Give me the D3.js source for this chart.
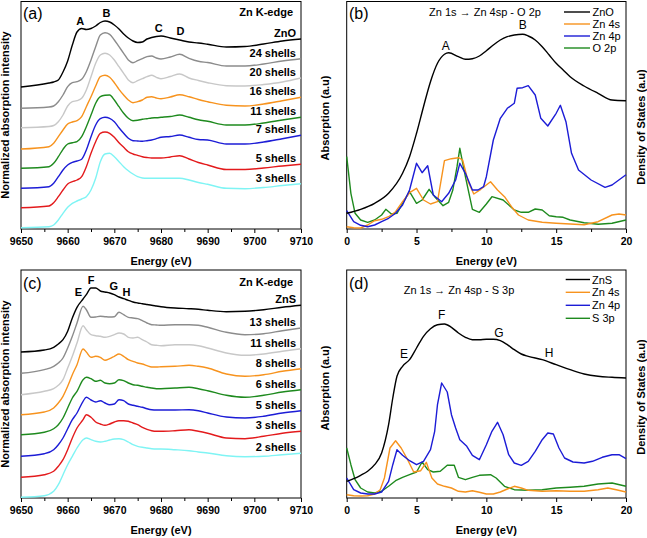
<!DOCTYPE html>
<html><head><meta charset="utf-8">
<script src="https://cdn.jsdelivr.net/npm/d3@7"></script>
<style>
body{margin:0;background:#fff;}
svg{display:block;}
text{font-family:"Liberation Sans",Arial,Helvetica,sans-serif;fill:#000;}
</style>
</head><body>
<svg id="chart" width="647" height="538"></svg>
<script>
// ---------------- Panel (a): Zn K-edge XANES, ZnO clusters ----------------
const energyA = [9650,9656,9657,9658,9659,9660,9661,9662,9663,9664,9665,9666,9667,9668,9669,9670,9671,9672,9673,9674,9675,9676,9677,9678,9679,9680,9682,9684,9686,9688,9690,9694,9698,9702,9706,9710];
const znoExp   = [1.42,1.46,1.47,1.49,1.57,1.68,1.84,1.97,2.005,1.995,2.005,2.03,2.065,2.08,2.07,2.04,2.00,1.95,1.91,1.88,1.865,1.87,1.90,1.915,1.925,1.93,1.91,1.89,1.87,1.86,1.847,1.82,1.825,1.85,1.88,1.90];
const zno24    = [1.207,1.22,1.23,1.273,1.34,1.423,1.463,1.473,1.497,1.573,1.69,1.823,1.94,1.963,1.947,1.89,1.823,1.757,1.69,1.663,1.683,1.703,1.723,1.73,1.71,1.70,1.72,1.747,1.707,1.677,1.665,1.63,1.63,1.65,1.68,1.703];
const zno20    = [1.013,1.025,1.035,1.073,1.14,1.23,1.273,1.283,1.307,1.39,1.523,1.657,1.74,1.757,1.74,1.69,1.623,1.557,1.49,1.463,1.483,1.503,1.523,1.537,1.517,1.503,1.525,1.55,1.51,1.485,1.463,1.433,1.43,1.445,1.47,1.51];
const zno16    = [0.80,0.823,0.857,0.923,0.99,1.05,1.07,1.083,1.123,1.223,1.323,1.43,1.523,1.537,1.517,1.463,1.397,1.34,1.29,1.263,1.273,1.29,1.317,1.323,1.31,1.303,1.32,1.343,1.323,1.295,1.273,1.237,1.23,1.25,1.283,1.317];
const zno11    = [0.607,0.623,0.657,0.723,0.797,0.85,0.863,0.873,0.923,1.023,1.14,1.257,1.323,1.337,1.34,1.29,1.223,1.157,1.107,1.083,1.087,1.097,1.103,1.11,1.113,1.117,1.125,1.14,1.117,1.093,1.077,1.04,1.04,1.06,1.09,1.117];
const zno7     = [0.407,0.423,0.457,0.523,0.59,0.64,0.667,0.68,0.697,0.79,0.923,1.04,1.103,1.117,1.107,1.073,1.013,0.957,0.907,0.883,0.88,0.877,0.883,0.89,0.903,0.917,0.925,0.94,0.917,0.895,0.89,0.85,0.85,0.87,0.903,0.937];
const zno5     = [0.213,0.23,0.263,0.323,0.39,0.45,0.473,0.49,0.523,0.623,0.757,0.873,0.957,0.97,0.957,0.917,0.863,0.817,0.773,0.75,0.737,0.723,0.715,0.71,0.71,0.71,0.72,0.733,0.70,0.665,0.64,0.595,0.595,0.61,0.63,0.647];
const zno3     = [0.013,0.023,0.04,0.09,0.157,0.217,0.257,0.28,0.30,0.323,0.39,0.507,0.673,0.75,0.757,0.723,0.673,0.623,0.583,0.55,0.523,0.51,0.507,0.507,0.507,0.507,0.507,0.507,0.49,0.465,0.447,0.407,0.403,0.415,0.435,0.453];
const labelsA  = ["ZnO","24 shells","20 shells","16 shells","11 shells","7 shells","5 shells","3 shells"];
const featuresA = [["A",9662.7,2.04],["B",9668.3,2.117],["C",9679.5,1.967],["D",9684.2,1.943]];

// ---------------- Panel (b): ZnO absorption and DOS ----------------
const eBabs = [0,1,2,3,4,4.5,5,5.5,6,6.5,7,7.3,8,8.5,9,9.5,10,10.5,11,11.5,12,12.6,13,13.5,14,14.5,15,15.5,16,17,18,19,20];
const znoAbs = [0.157,0.197,0.257,0.357,0.557,0.723,0.957,1.223,1.473,1.657,1.747,1.763,1.723,1.697,1.703,1.73,1.783,1.84,1.89,1.923,1.94,1.947,1.93,1.89,1.823,1.74,1.657,1.59,1.523,1.43,1.357,1.29,1.283];
const eB4s = [0,0.5,1,1.5,2,2.5,3,3.5,4,4.5,5,5.5,6,6.5,7,7.5,8,8.3,8.7,9.1,9.6,10.3,10.8,11.3,11.8,12.3,13,14,15,16,17,18,19,19.5,20];
const znoZn4s = [0.023,0.013,0.01,0.04,0.083,0.097,0.123,0.173,0.273,0.363,0.407,0.29,0.25,0.273,0.683,0.703,0.713,0.69,0.473,0.35,0.397,0.473,0.39,0.323,0.223,0.14,0.09,0.067,0.057,0.05,0.043,0.073,0.14,0.15,0.14];
const eB4p = [0,0.5,1,1.5,2,2.5,3,3.5,4,4.5,5,5.4,5.8,6.2,6.8,7.3,7.8,8.1,8.5,9,9.4,9.8,10,10.5,11,11.5,12,12.2,12.6,13,13.5,13.9,14.4,15,15.3,15.7,16.1,16.6,17.5,18.5,19,20];
const znoZn4p = [0.183,0.073,0.037,0.023,0.04,0.073,0.107,0.157,0.24,0.39,0.657,0.563,0.633,0.34,0.273,0.357,0.49,0.657,0.557,0.39,0.39,0.423,0.523,0.89,1.107,1.207,1.257,1.407,1.413,1.433,1.34,1.107,1.03,1.157,1.237,1.073,0.757,0.59,0.49,0.417,0.44,0.543];
const eB2p = [0,0.3,0.6,1,1.5,2,2.5,2.8,3.2,3.6,4,4.5,5,5.4,5.9,6.3,6.9,7.3,7.6,7.9,8.1,8.5,9,9.5,10,10.4,11.2,12,12.5,13,13.5,14,14.5,15,15.5,16,17,18,19,20];
const znoO2p = [0.723,0.357,0.157,0.09,0.067,0.09,0.14,0.197,0.15,0.157,0.257,0.373,0.257,0.29,0.397,0.323,0.233,0.267,0.39,0.623,0.807,0.523,0.197,0.167,0.25,0.323,0.29,0.19,0.167,0.167,0.20,0.19,0.133,0.123,0.117,0.09,0.063,0.047,0.057,0.09];
const legendB = ["ZnO","Zn 4s","Zn 4p","O 2p"];
const featuresB = [["A",7.1,1.79],["B",12.6,2.00]];

// ---------------- Panel (c): Zn K-edge XANES, ZnS clusters ----------------
const energyC = [9650,9655,9657,9658,9659,9660,9661,9662,9663.3,9664,9665,9666,9667,9668,9669,9670,9671,9672,9673,9674,9675,9676,9677,9678,9679,9680,9683,9686,9688,9690,9694,9698,9702,9706,9710];
const znsExp = [1.46,1.48,1.507,1.54,1.583,1.667,1.80,1.907,1.99,2.033,2.10,2.10,2.07,2.06,2.05,2.033,2.01,1.993,1.977,1.96,1.95,1.943,1.935,1.927,1.92,1.913,1.90,1.893,1.887,1.877,1.863,1.867,1.883,1.907,1.927];
const zns13 = [1.247,1.283,1.317,1.35,1.40,1.50,1.617,1.75,1.917,1.883,1.807,1.81,1.817,1.813,1.81,1.813,1.857,1.833,1.807,1.80,1.793,1.773,1.75,1.733,1.73,1.727,1.733,1.733,1.727,1.707,1.657,1.633,1.643,1.673,1.70];
const zns11 = [1.033,1.067,1.093,1.127,1.183,1.30,1.417,1.55,1.723,1.683,1.633,1.623,1.617,1.607,1.617,1.633,1.65,1.64,1.607,1.60,1.607,1.583,1.56,1.533,1.527,1.523,1.533,1.533,1.523,1.50,1.45,1.427,1.44,1.467,1.493];
const zns8  = [0.833,0.86,0.90,0.95,1.017,1.117,1.233,1.333,1.49,1.46,1.407,1.417,1.407,1.377,1.393,1.417,1.44,1.417,1.383,1.367,1.35,1.34,1.323,1.31,1.31,1.313,1.317,1.327,1.317,1.30,1.24,1.217,1.233,1.267,1.293];
const zns6  = [0.633,0.657,0.693,0.733,0.80,0.90,1.00,1.067,1.183,1.207,1.193,1.167,1.177,1.15,1.143,1.15,1.183,1.173,1.15,1.133,1.127,1.117,1.107,1.10,1.093,1.093,1.10,1.107,1.093,1.073,1.027,1.007,1.027,1.06,1.083];
const zns5  = [0.417,0.443,0.483,0.533,0.60,0.693,0.783,0.85,0.967,1.007,0.98,0.96,0.973,0.95,0.933,0.94,0.983,0.973,0.94,0.927,0.917,0.907,0.893,0.883,0.88,0.88,0.88,0.883,0.873,0.85,0.81,0.80,0.817,0.85,0.873];
const zns3  = [0.207,0.233,0.267,0.317,0.383,0.483,0.60,0.70,0.783,0.833,0.807,0.76,0.74,0.727,0.74,0.76,0.773,0.773,0.767,0.75,0.733,0.707,0.687,0.673,0.667,0.667,0.673,0.683,0.667,0.647,0.60,0.593,0.617,0.647,0.667];
const zns2  = [0.007,0.023,0.067,0.133,0.233,0.333,0.417,0.50,0.583,0.60,0.583,0.567,0.56,0.567,0.58,0.59,0.593,0.583,0.56,0.533,0.517,0.507,0.50,0.493,0.49,0.49,0.483,0.473,0.46,0.45,0.423,0.413,0.417,0.433,0.447];
const labelsC = ["ZnS","13 shells","11 shells","8 shells","6 shells","5 shells","3 shells","2 shells"];
const featuresC = [["E",9662.3,2.02],["F",9665,2.143],["G",9669.9,2.077],["H",9672.6,2.02]];

// ---------------- Panel (d): ZnS absorption and DOS ----------------
const eDabs = [0,0.5,1,1.5,2,2.5,3,3.3,3.6,4,4.5,5,5.5,6,6.5,7,7.5,8,8.5,9,9.5,10,10.5,11,11.5,12,12.5,13,14,15,16,17,18,19,20];
const znsAbs = [0.167,0.193,0.227,0.267,0.333,0.45,0.733,1.00,1.217,1.317,1.383,1.50,1.617,1.693,1.733,1.74,1.707,1.65,1.607,1.583,1.583,1.587,1.587,1.573,1.533,1.483,1.44,1.417,1.383,1.333,1.283,1.24,1.217,1.207,1.20];
const eD4s = [0,0.5,1,1.5,2,2.4,2.7,3.1,3.5,3.9,4.3,4.8,5.3,5.7,6.1,6.5,7,7.5,8,8.5,9,9.5,10,10.5,11,11.5,12,12.5,13,14,15,16,17,18,18.7,19.3,20];
const znsZn4s = [0.033,0.023,0.02,0.023,0.04,0.083,0.20,0.50,0.573,0.50,0.40,0.26,0.273,0.357,0.20,0.14,0.117,0.10,0.067,0.06,0.073,0.057,0.04,0.04,0.06,0.09,0.117,0.10,0.077,0.067,0.073,0.067,0.067,0.083,0.10,0.083,0.06];
const eD4p = [0,0.5,1,1.5,2,2.5,3,3.3,3.6,4,4.5,5,5.5,6,6.3,6.5,6.8,7.2,7.5,7.8,8.1,8.6,9,9.5,10,10.4,10.8,11.2,11.6,12,12.5,13,13.5,14,14.4,14.8,15.2,15.6,16.2,17,17.6,18.3,19,19.5,20];
const znsZn4p = [0.20,0.083,0.05,0.04,0.04,0.06,0.167,0.333,0.483,0.427,0.373,0.333,0.367,0.483,0.667,0.933,1.15,1.06,0.833,0.70,0.583,0.517,0.427,0.383,0.533,0.667,0.757,0.633,0.433,0.35,0.327,0.367,0.467,0.583,0.65,0.64,0.50,0.40,0.36,0.35,0.367,0.407,0.433,0.433,0.393];
const eD3p = [0,0.3,0.6,1,1.5,2,2.5,3,3.5,4,4.5,5,5.4,5.8,6.2,6.7,7.2,7.7,8,8.5,9,9.5,10.3,10.7,11.3,12,13,14,15,16,17,18,19,20];
const znsS3p = [0.50,0.333,0.183,0.10,0.06,0.05,0.067,0.117,0.173,0.207,0.233,0.26,0.36,0.283,0.26,0.267,0.327,0.327,0.207,0.183,0.207,0.227,0.233,0.20,0.117,0.083,0.077,0.083,0.10,0.107,0.117,0.14,0.15,0.117];
const legendD = ["ZnS","Zn 4s","Zn 4p","S 3p"];
const featuresD = [["E",4.1,1.40],["F",6.8,1.79],["G",10.9,1.61],["H",14.5,1.41]];

// ---------------- colours ----------------
const shellColors = ["#000000","#8c8c8c","#c8c8c8","#f7931e","#1e8a1e","#1c1cd6","#e31a1c","#7ff4f4"];
const dosColors = ["#000000","#f7931e","#1c1cd6","#1e8a1e"];

// ---------------- drawing ----------------
const svg = d3.select("#chart");
const BOLD = "bold";

function makePanel(cfg) {
  const x = d3.scaleLinear().domain(cfg.xDomain).range([cfg.x0, cfg.x1]);
  const y = d3.scaleLinear().domain(cfg.yDomain).range([cfg.bottom, cfg.yTopPx]);
  const g = svg.append("g");
  g.append("g").attr("transform", `translate(0,${cfg.bottom})`)
    .call(d3.axisBottom(x).tickValues(cfg.minor).tickSize(3).tickFormat(""))
    .call(s => s.select(".domain").remove())
    .call(s => s.selectAll("line").attr("stroke", "#000").attr("stroke-width", 1));
  g.append("g").attr("transform", `translate(0,${cfg.bottom})`)
    .call(d3.axisBottom(x).tickValues(cfg.major).tickSize(4).tickPadding(5).tickFormat(d3.format("d")))
    .call(s => s.select(".domain").remove())
    .call(s => s.selectAll("line").attr("stroke", "#000").attr("stroke-width", 1))
    .call(s => s.selectAll("text").attr("font-size", "10.5px").attr("font-weight", BOLD)
      .attr("fill", "#000").attr("font-family", '"Liberation Sans",Arial,sans-serif'));
  g.append("rect").attr("x", cfg.x0).attr("y", cfg.frameTop)
    .attr("width", cfg.x1 - cfg.x0).attr("height", cfg.bottom - cfg.frameTop)
    .attr("fill", "none").attr("stroke", "#000").attr("stroke-width", 1);
  g.append("text").attr("x", (cfg.x0 + cfg.x1) / 2).attr("y", cfg.bottom + 36)
    .attr("text-anchor", "middle").attr("font-size", "11px").attr("font-weight", BOLD)
    .text("Energy (eV)");
  return {x, y, g};
}

function drawLine(p, xs, ys, color, curve, width) {
  const data = xs.map((v, i) => [v, ys[i]]);
  p.g.append("path").datum(data)
    .attr("fill", "none").attr("stroke", color).attr("stroke-width", width || 1.4)
    .attr("stroke-linejoin", "round")
    .attr("d", d3.line().x(d => p.x(d[0])).y(d => p.y(d[1])).curve(curve));
}

function panelTag(p, t, xx, yy) {
  p.g.append("text").attr("x", xx).attr("y", yy).attr("font-size", "16px").text(t);
}

function vLabel(xx, yy, t) {
  svg.append("text").attr("transform", `translate(${xx},${yy}) rotate(-90)`)
    .attr("text-anchor", "middle").attr("font-size", "11px").attr("font-weight", BOLD).text(t);
}

function legend(p, names, rows, lx0, lx1, tx) {
  names.forEach((t, i) => {
    p.g.append("line").attr("x1", lx0).attr("x2", lx1).attr("y1", rows[i]).attr("y2", rows[i])
      .attr("stroke", dosColors[i]).attr("stroke-width", 1.4);
    p.g.append("text").attr("x", tx).attr("y", rows[i] + 4).attr("font-size", "11px").text(t);
  });
}

// ---- panel a ----
const pA = makePanel({x0: 21, x1: 301, frameTop: 1.5, bottom: 229, yTopPx: 1.5,
  xDomain: [9650, 9710], yDomain: [0, 2.275],
  major: d3.range(9650, 9711, 10), minor: d3.range(9655, 9710, 10)});
const seriesA = [znoExp, zno24, zno20, zno16, zno11, zno7, zno5, zno3];
seriesA.slice().reverse().forEach((s, i) => {
  const k = seriesA.length - 1 - i;
  drawLine(pA, energyA, s, shellColors[k], d3.curveMonotoneX, 1.4);
});
seriesA.forEach((s, k) => {
  pA.g.append("text").attr("x", 296).attr("y", pA.y(s[s.length - 1]) - 2)
    .attr("text-anchor", "end").attr("font-size", "11px").attr("font-weight", BOLD).text(labelsA[k]);
});
pA.g.append("text").attr("x", 293).attr("y", 16).attr("text-anchor", "end")
  .attr("font-size", "11px").attr("font-weight", BOLD).text("Zn K-edge");
featuresA.forEach(f => pA.g.append("text").attr("x", pA.x(f[1])).attr("y", pA.y(f[2]))
  .attr("text-anchor", "middle").attr("font-size", "11px").attr("font-weight", BOLD).text(f[0]));
panelTag(pA, "(a)", 23, 19);
vLabel(9, 115, "Normalized absorption intensity");

// ---- panel b ----
const pB = makePanel({x0: 346.7, x1: 626, frameTop: 1.5, bottom: 229, yTopPx: 1.5,
  xDomain: [0, 20], yDomain: [0, 2.275],
  major: [0, 5, 10, 15, 20], minor: [2.5, 7.5, 12.5, 17.5]});
drawLine(pB, eB2p, znoO2p, dosColors[3], d3.curveLinear, 1.4);
drawLine(pB, eB4s, znoZn4s, dosColors[1], d3.curveLinear, 1.4);
drawLine(pB, eB4p, znoZn4p, dosColors[2], d3.curveLinear, 1.4);
drawLine(pB, eBabs, znoAbs, dosColors[0], d3.curveMonotoneX, 1.4);
featuresB.forEach(f => pB.g.append("text").attr("x", pB.x(f[1])).attr("y", pB.y(f[2]))
  .attr("text-anchor", "middle").attr("font-size", "12px").text(f[0]));
pB.g.append("text").attr("x", 485).attr("y", 16.3).attr("text-anchor", "middle")
  .attr("font-size", "11px").text("Zn 1s \u2192 Zn 4sp - O 2p");
legend(pB, legendB, [12, 24, 36, 48], 564, 590, 592.5);
panelTag(pB, "(b)", 349, 19);
vLabel(329, 118, "Absorption (a.u)");
vLabel(645, 127, "Density of States (a.u)");

// ---- panel c ----
const pC = makePanel({x0: 21, x1: 301, frameTop: 270, bottom: 498, yTopPx: 270,
  xDomain: [9650, 9710], yDomain: [0, 2.28],
  major: d3.range(9650, 9711, 10), minor: d3.range(9655, 9710, 10)});
const seriesC = [znsExp, zns13, zns11, zns8, zns6, zns5, zns3, zns2];
seriesC.slice().reverse().forEach((s, i) => {
  const k = seriesC.length - 1 - i;
  drawLine(pC, energyC, s, shellColors[k], d3.curveMonotoneX, 1.4);
});
seriesC.forEach((s, k) => {
  pC.g.append("text").attr("x", 296).attr("y", pC.y(s[s.length - 1]) - 2)
    .attr("text-anchor", "end").attr("font-size", "11px").attr("font-weight", BOLD).text(labelsC[k]);
});
pC.g.append("text").attr("x", 293).attr("y", 286).attr("text-anchor", "end")
  .attr("font-size", "11px").attr("font-weight", BOLD).text("Zn K-edge");
featuresC.forEach(f => pC.g.append("text").attr("x", pC.x(f[1])).attr("y", pC.y(f[2]))
  .attr("text-anchor", "middle").attr("font-size", "11px").attr("font-weight", BOLD).text(f[0]));
panelTag(pC, "(c)", 23, 289);
vLabel(9, 384, "Normalized absorption intensity");

// ---- panel d ----
const pD = makePanel({x0: 346.7, x1: 626, frameTop: 270, bottom: 498, yTopPx: 270,
  xDomain: [0, 20], yDomain: [0, 2.28],
  major: [0, 5, 10, 15, 20], minor: [2.5, 7.5, 12.5, 17.5]});
drawLine(pD, eD3p, znsS3p, dosColors[3], d3.curveLinear, 1.4);
drawLine(pD, eD4s, znsZn4s, dosColors[1], d3.curveLinear, 1.4);
drawLine(pD, eD4p, znsZn4p, dosColors[2], d3.curveLinear, 1.4);
drawLine(pD, eDabs, znsAbs, dosColors[0], d3.curveMonotoneX, 1.4);
featuresD.forEach(f => pD.g.append("text").attr("x", pD.x(f[1])).attr("y", pD.y(f[2]))
  .attr("text-anchor", "middle").attr("font-size", "12px").text(f[0]));
pD.g.append("text").attr("x", 459).attr("y", 293.7).attr("text-anchor", "middle")
  .attr("font-size", "11px").text("Zn 1s \u2192 Zn 4sp - S 3p");
legend(pD, legendD, [279.5, 292.3, 305.3, 318.3], 565.7, 590, 592);
panelTag(pD, "(d)", 349, 289);
vLabel(329, 388, "Absorption (a.u)");
vLabel(645, 397, "Density of States (a.u)");
</script>
</body></html>
